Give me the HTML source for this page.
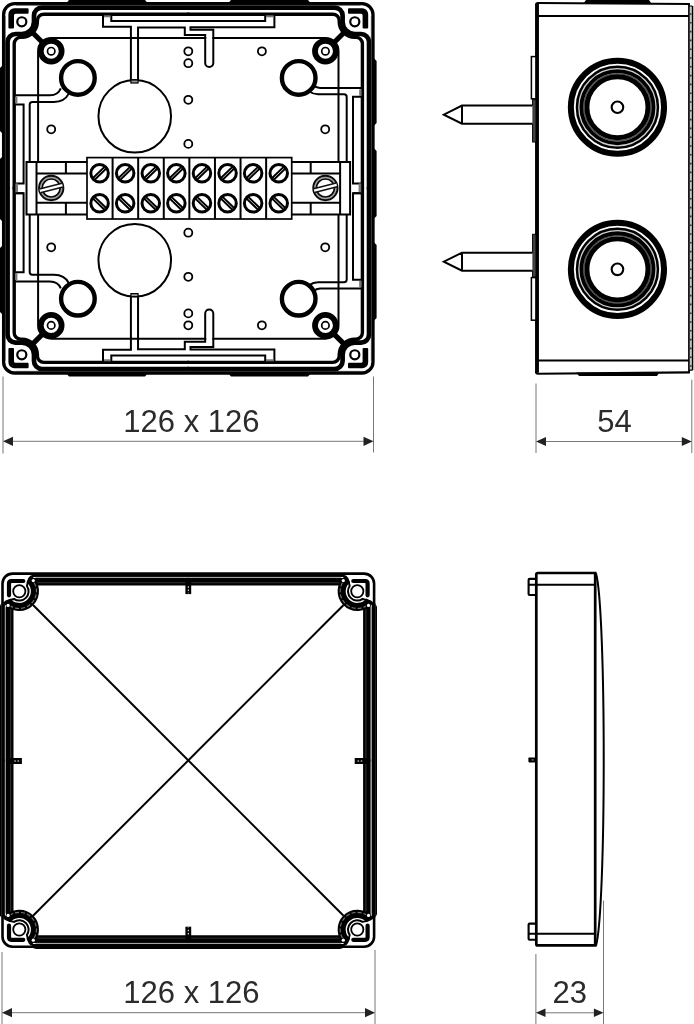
<!DOCTYPE html>
<html lang="en">
<head>
<meta charset="utf-8">
<title>Junction box 126 x 126 - dimensional drawing</title>
<style>
html,body{margin:0;padding:0;background:#fff;}
body{width:694px;height:1024px;overflow:hidden;font-family:"Liberation Sans",sans-serif;}
svg{display:block;}
</style>
</head>
<body>
<svg width="694" height="1024" viewBox="0 0 694 1024">
<rect x="0" y="0" width="694" height="1024" fill="#fff"/>
<g id="topview"><path d="M66 3.5 L69 0 L145 0 L148 3.5 Z" fill="#000"/><path d="M228 3.5 L231 0 L308 0 L311 3.5 Z" fill="#000"/><path d="M66 373.1 L69 376.6 L145 376.6 L148 373.1 Z" fill="#000"/><path d="M228 373.1 L231 376.6 L308 376.6 L311 373.1 Z" fill="#000"/><path d="M3 65 L0 68 L0 131 L3 134 Z" fill="#000"/><path d="M3 156 L0 159 L0 219 L3 222 Z" fill="#000"/><path d="M3 245 L0 248 L0 312 L3 315 Z" fill="#000"/><path d="M373.6 58 L376.6 61 L376.6 123 L373.6 126 Z" fill="#000"/><path d="M373.6 148 L376.6 151 L376.6 216 L373.6 219 Z" fill="#000"/><path d="M373.6 242 L376.6 245 L376.6 318 L373.6 321 Z" fill="#000"/><rect x="3.6" y="3.6" width="369.40000000000003" height="369.40000000000003" rx="11" fill="none" stroke="#000" stroke-width="3.3"/><path d="M189.3 7.55 H42 A8 8 0 0 0 34 15.55 V21.8 A12.2 12.2 0 0 1 21.8 34 H15.55 A8 8 0 0 0 7.55 42 V189.3" fill="none" stroke="#000" stroke-width="4.7" /><g transform="translate(376.6,0) scale(-1,1)"><path d="M189.3 7.55 H42 A8 8 0 0 0 34 15.55 V21.8 A12.2 12.2 0 0 1 21.8 34 H15.55 A8 8 0 0 0 7.55 42 V189.3" fill="none" stroke="#000" stroke-width="4.7" /></g><g transform="translate(0,376.6) scale(1,-1)"><path d="M189.3 7.55 H42 A8 8 0 0 0 34 15.55 V21.8 A12.2 12.2 0 0 1 21.8 34 H15.55 A8 8 0 0 0 7.55 42 V189.3" fill="none" stroke="#000" stroke-width="4.7" /></g><g transform="translate(376.6,376.6) scale(-1,-1)"><path d="M189.3 7.55 H42 A8 8 0 0 0 34 15.55 V21.8 A12.2 12.2 0 0 1 21.8 34 H15.55 A8 8 0 0 0 7.55 42 V189.3" fill="none" stroke="#000" stroke-width="4.7" /></g><path d="M189.3 5.3 H16 M5.3 16 V189.3" stroke="#3a3a3a" stroke-width="0.6" fill="none"/><g transform="translate(376.6,0) scale(-1,1)"><path d="M189.3 5.3 H16 M5.3 16 V189.3" stroke="#3a3a3a" stroke-width="0.6" fill="none"/></g><g transform="translate(0,376.6) scale(1,-1)"><path d="M189.3 5.3 H16 M5.3 16 V189.3" stroke="#3a3a3a" stroke-width="0.6" fill="none"/></g><g transform="translate(376.6,376.6) scale(-1,-1)"><path d="M189.3 5.3 H16 M5.3 16 V189.3" stroke="#3a3a3a" stroke-width="0.6" fill="none"/></g><path d="M189.3 14.2 H43.8 A6.4 6.4 0 0 0 37.4 20.6 V21.8 A15.6 15.6 0 0 1 21.8 37.4 H20.6 A6.4 6.4 0 0 0 14.2 43.8 V189.3" fill="none" stroke="#000" stroke-width="3.4" /><g transform="translate(376.6,0) scale(-1,1)"><path d="M189.3 14.2 H43.8 A6.4 6.4 0 0 0 37.4 20.6 V21.8 A15.6 15.6 0 0 1 21.8 37.4 H20.6 A6.4 6.4 0 0 0 14.2 43.8 V189.3" fill="none" stroke="#000" stroke-width="3.4" /></g><g transform="translate(0,376.6) scale(1,-1)"><path d="M189.3 14.2 H43.8 A6.4 6.4 0 0 0 37.4 20.6 V21.8 A15.6 15.6 0 0 1 21.8 37.4 H20.6 A6.4 6.4 0 0 0 14.2 43.8 V189.3" fill="none" stroke="#000" stroke-width="3.4" /></g><g transform="translate(376.6,376.6) scale(-1,-1)"><path d="M189.3 14.2 H43.8 A6.4 6.4 0 0 0 37.4 20.6 V21.8 A15.6 15.6 0 0 1 21.8 37.4 H20.6 A6.4 6.4 0 0 0 14.2 43.8 V189.3" fill="none" stroke="#000" stroke-width="3.4" /></g><path d="M8.4 27.6 V14.3 A6 6 0 0 1 14.4 8.3 H27.6 Q28.6 8.3 28.6 9.3 V12.8 Q28.6 13.8 27.6 13.8 H15.5 Q14 13.8 14 15.3 V27.6 Q14 28.6 13 28.6 H9.4 Q8.4 28.6 8.4 27.6 Z" fill="#000"/><g transform="translate(376.6,0) scale(-1,1)"><path d="M8.4 27.6 V14.3 A6 6 0 0 1 14.4 8.3 H27.6 Q28.6 8.3 28.6 9.3 V12.8 Q28.6 13.8 27.6 13.8 H15.5 Q14 13.8 14 15.3 V27.6 Q14 28.6 13 28.6 H9.4 Q8.4 28.6 8.4 27.6 Z" fill="#000"/></g><g transform="translate(0,376.6) scale(1,-1)"><path d="M8.4 27.6 V14.3 A6 6 0 0 1 14.4 8.3 H27.6 Q28.6 8.3 28.6 9.3 V12.8 Q28.6 13.8 27.6 13.8 H15.5 Q14 13.8 14 15.3 V27.6 Q14 28.6 13 28.6 H9.4 Q8.4 28.6 8.4 27.6 Z" fill="#000"/></g><g transform="translate(376.6,376.6) scale(-1,-1)"><path d="M8.4 27.6 V14.3 A6 6 0 0 1 14.4 8.3 H27.6 Q28.6 8.3 28.6 9.3 V12.8 Q28.6 13.8 27.6 13.8 H15.5 Q14 13.8 14 15.3 V27.6 Q14 28.6 13 28.6 H9.4 Q8.4 28.6 8.4 27.6 Z" fill="#000"/></g><circle cx="21.8" cy="21.8" r="4.54" fill="none" stroke="#000" stroke-width="2.2"/><g transform="translate(376.6,0) scale(-1,1)"><circle cx="21.8" cy="21.8" r="4.54" fill="none" stroke="#000" stroke-width="2.2"/></g><g transform="translate(0,376.6) scale(1,-1)"><circle cx="21.8" cy="21.8" r="4.54" fill="none" stroke="#000" stroke-width="2.2"/></g><g transform="translate(376.6,376.6) scale(-1,-1)"><circle cx="21.8" cy="21.8" r="4.54" fill="none" stroke="#000" stroke-width="2.2"/></g><path d="M31 31 L45 45" stroke="#000" stroke-width="5.2" fill="none"/><g transform="translate(376.6,0) scale(-1,1)"><path d="M31 31 L45 45" stroke="#000" stroke-width="5.2" fill="none"/></g><g transform="translate(0,376.6) scale(1,-1)"><path d="M31 31 L45 45" stroke="#000" stroke-width="5.2" fill="none"/></g><g transform="translate(376.6,376.6) scale(-1,-1)"><path d="M31 31 L45 45" stroke="#000" stroke-width="5.2" fill="none"/></g><rect x="38.1" y="37.9" width="300.40000000000003" height="300.8" rx="13" fill="none" stroke="#000" stroke-width="2"/><circle cx="134.75" cy="116.3" r="36.3" fill="none" stroke="#000" stroke-width="2.0"/><g transform="translate(0,376.6) scale(1,-1)"><circle cx="134.75" cy="116.3" r="36.3" fill="none" stroke="#000" stroke-width="2.0"/></g><path d="M103 14.2 V26.8 H130.9 V80.5" fill="none" stroke="#000" stroke-width="2.0" /><path d="M138.05 80.5 V27.4 H184.8 V34.9 H205.2 V63 a4.05 4.05 0 0 0 8.1 0 V29.7 H190.5 V27.2 H274.4 V14.2" fill="none" stroke="#000" stroke-width="2.0" /><path d="M111.3 14.2 V21 H265.2 V14.2" fill="none" stroke="#000" stroke-width="2.0" /><rect x="104" y="15.3" width="6.5" height="2" fill="#777"/><rect x="266" y="15.3" width="7.6" height="2" fill="#777"/><rect x="130.9" y="80" width="7.15" height="3" fill="#999" stroke="#000" stroke-width="1.2"/><rect x="206.4" y="36" width="5.7" height="4" fill="#fff"/><g transform="translate(0,376.6) scale(1,-1)"><path d="M103 14.2 V26.8 H130.9 V80.5" fill="none" stroke="#000" stroke-width="2.0" /><path d="M138.05 80.5 V27.4 H184.8 V34.9 H205.2 V63 a4.05 4.05 0 0 0 8.1 0 V29.7 H190.5 V27.2 H274.4 V14.2" fill="none" stroke="#000" stroke-width="2.0" /><path d="M111.3 14.2 V21 H265.2 V14.2" fill="none" stroke="#000" stroke-width="2.0" /><rect x="104" y="15.3" width="6.5" height="2" fill="#777"/><rect x="266" y="15.3" width="7.6" height="2" fill="#777"/><rect x="130.9" y="80" width="7.15" height="3" fill="#999" stroke="#000" stroke-width="1.2"/><rect x="206.4" y="36" width="5.7" height="4" fill="#fff"/></g><path d="M15.4 95.2 H50 Q58 95.2 60.8 88.3" fill="none" stroke="#000" stroke-width="2.0" /><path d="M29.7 161.5 V104.6 Q29.7 101.9 32.4 101.9 H54 Q64.5 101.9 68.8 93.6" fill="none" stroke="#000" stroke-width="2.0" /><path d="M15.4 104.4 H23.6 V183.4 H15.4" fill="none" stroke="#000" stroke-width="2.0" /><rect x="15" y="96.6" width="2.4" height="6.8" fill="#777"/><g transform="translate(0,376.6) scale(1,-1)"><path d="M15.4 95.2 H50 Q58 95.2 60.8 88.3" fill="none" stroke="#000" stroke-width="2.0" /><path d="M29.7 161.5 V104.6 Q29.7 101.9 32.4 101.9 H54 Q64.5 101.9 68.8 93.6" fill="none" stroke="#000" stroke-width="2.0" /><path d="M15.4 104.4 H23.6 V183.4 H15.4" fill="none" stroke="#000" stroke-width="2.0" /><rect x="15" y="96.6" width="2.4" height="6.8" fill="#777"/></g><rect x="15.4" y="183.4" width="2.6" height="9.8" fill="#777"/><path d="M15.4 193.2 H23.6" fill="none" stroke="#000" stroke-width="2.0" /><path d="M361 88 H320 Q316 87.8 314 85.5" fill="none" stroke="#000" stroke-width="2.0" /><path d="M346.7 161.5 V97 Q346.7 94.3 344 94.3 H318 Q313 94.2 309.5 91.5" fill="none" stroke="#000" stroke-width="2.0" /><path d="M361 96.8 H353 V183.4 H361" fill="none" stroke="#000" stroke-width="2.0" /><rect x="359.2" y="89.4" width="2.4" height="6.4" fill="#777"/><g transform="translate(0,376.6) scale(1,-1)"><path d="M361 88 H320 Q316 87.8 314 85.5" fill="none" stroke="#000" stroke-width="2.0" /><path d="M346.7 161.5 V97 Q346.7 94.3 344 94.3 H318 Q313 94.2 309.5 91.5" fill="none" stroke="#000" stroke-width="2.0" /><path d="M361 96.8 H353 V183.4 H361" fill="none" stroke="#000" stroke-width="2.0" /><rect x="359.2" y="89.4" width="2.4" height="6.4" fill="#777"/></g><rect x="358.6" y="183.4" width="2.6" height="9.8" fill="#777"/><path d="M361 193.2 H353" fill="none" stroke="#000" stroke-width="2.0" /><circle cx="51.2" cy="51.2" r="10.43" fill="none" stroke="#000" stroke-width="5.75"/><circle cx="51.2" cy="51.2" r="3.7" fill="none" stroke="#000" stroke-width="1.7"/><g transform="translate(376.6,0) scale(-1,1)"><circle cx="51.2" cy="51.2" r="10.43" fill="none" stroke="#000" stroke-width="5.75"/><circle cx="51.2" cy="51.2" r="3.7" fill="none" stroke="#000" stroke-width="1.7"/></g><g transform="translate(0,376.6) scale(1,-1)"><circle cx="51.2" cy="51.2" r="10.43" fill="none" stroke="#000" stroke-width="5.75"/><circle cx="51.2" cy="51.2" r="3.7" fill="none" stroke="#000" stroke-width="1.7"/></g><g transform="translate(376.6,376.6) scale(-1,-1)"><circle cx="51.2" cy="51.2" r="10.43" fill="none" stroke="#000" stroke-width="5.75"/><circle cx="51.2" cy="51.2" r="3.7" fill="none" stroke="#000" stroke-width="1.7"/></g><circle cx="77.9" cy="77.9" r="16.8" fill="#fff" stroke="#000" stroke-width="4.4"/><g transform="translate(376.6,0) scale(-1,1)"><circle cx="77.9" cy="77.9" r="16.8" fill="#fff" stroke="#000" stroke-width="4.4"/></g><g transform="translate(0,376.6) scale(1,-1)"><circle cx="77.9" cy="77.9" r="16.8" fill="#fff" stroke="#000" stroke-width="4.4"/></g><g transform="translate(376.6,376.6) scale(-1,-1)"><circle cx="77.9" cy="77.9" r="16.8" fill="#fff" stroke="#000" stroke-width="4.4"/></g><circle cx="188.3" cy="51.3" r="4.0" fill="none" stroke="#000" stroke-width="1.8"/><circle cx="188.3" cy="63.2" r="4.0" fill="none" stroke="#000" stroke-width="1.8"/><circle cx="188.3" cy="99.8" r="4.0" fill="none" stroke="#000" stroke-width="1.8"/><circle cx="188.3" cy="143.9" r="4.0" fill="none" stroke="#000" stroke-width="1.8"/><circle cx="261.9" cy="51.3" r="4.0" fill="none" stroke="#000" stroke-width="1.8"/><circle cx="51.2" cy="129.3" r="4.0" fill="none" stroke="#000" stroke-width="1.8"/><circle cx="325.2" cy="129.3" r="4.0" fill="none" stroke="#000" stroke-width="1.8"/><g transform="translate(0,376.6) scale(1,-1)"><circle cx="188.3" cy="51.3" r="4.0" fill="none" stroke="#000" stroke-width="1.8"/><circle cx="188.3" cy="63.2" r="4.0" fill="none" stroke="#000" stroke-width="1.8"/><circle cx="188.3" cy="99.8" r="4.0" fill="none" stroke="#000" stroke-width="1.8"/><circle cx="188.3" cy="143.9" r="4.0" fill="none" stroke="#000" stroke-width="1.8"/><circle cx="261.9" cy="51.3" r="4.0" fill="none" stroke="#000" stroke-width="1.8"/><circle cx="51.2" cy="129.3" r="4.0" fill="none" stroke="#000" stroke-width="1.8"/><circle cx="325.2" cy="129.3" r="4.0" fill="none" stroke="#000" stroke-width="1.8"/></g><rect x="26.5" y="162" width="61" height="52.4" fill="#fff" stroke="none"/><path d="M87 162 H26.5 V214.4 H87" fill="none" stroke="#000" stroke-width="2.0" /><path d="M36.5 162 V214.4" fill="none" stroke="#000" stroke-width="2.0" /><path d="M36.5 173.4 H87 M36.5 202.7 H87" fill="none" stroke="#000" stroke-width="2.0" /><path d="M65.9 162 V173.4 M65.9 202.7 V214.4" fill="none" stroke="#000" stroke-width="2.0" /><circle cx="51.2" cy="188" r="10.6" fill="#fff" stroke="#a0a0a0" stroke-width="3.4"/><circle cx="51.2" cy="188" r="12.2" fill="none" stroke="#0a0a0a" stroke-width="1.9"/><circle cx="51.2" cy="188" r="9.0" fill="none" stroke="#0a0a0a" stroke-width="1.7"/><g transform="translate(376.6,0) scale(-1,1)"><rect x="26.5" y="162" width="61" height="52.4" fill="#fff" stroke="none"/><path d="M87 162 H26.5 V214.4 H87" fill="none" stroke="#000" stroke-width="2.0" /><path d="M36.5 162 V214.4" fill="none" stroke="#000" stroke-width="2.0" /><path d="M36.5 173.4 H87 M36.5 202.7 H87" fill="none" stroke="#000" stroke-width="2.0" /><path d="M65.9 162 V173.4 M65.9 202.7 V214.4" fill="none" stroke="#000" stroke-width="2.0" /><circle cx="51.2" cy="188" r="10.6" fill="#fff" stroke="#a0a0a0" stroke-width="3.4"/><circle cx="51.2" cy="188" r="12.2" fill="none" stroke="#0a0a0a" stroke-width="1.9"/><circle cx="51.2" cy="188" r="9.0" fill="none" stroke="#0a0a0a" stroke-width="1.7"/></g><path d="M39.96 190.88 L62.44 185.12" stroke="#fff" stroke-width="3.6" fill="none"/><path d="M39.49 189.04 L61.96 183.27" stroke="#111" stroke-width="1.5" fill="none"/><path d="M40.44 192.73 L62.91 186.96" stroke="#111" stroke-width="1.5" fill="none"/><path d="M314.16 190.58 L336.64 184.82" stroke="#fff" stroke-width="3.6" fill="none"/><path d="M313.69 188.74 L336.16 182.97" stroke="#111" stroke-width="1.5" fill="none"/><path d="M314.64 192.43 L337.11 186.66" stroke="#111" stroke-width="1.5" fill="none"/><rect x="87.0" y="157.6" width="204.72" height="61.40" fill="#fff" stroke="#000" stroke-width="1.7"/><path d="M112.59 157.6 V219.0" fill="none" stroke="#000" stroke-width="2.0" /><path d="M138.18 157.6 V219.0" fill="none" stroke="#000" stroke-width="2.0" /><path d="M163.77 157.6 V219.0" fill="none" stroke="#000" stroke-width="2.0" /><path d="M189.36 157.6 V219.0" fill="none" stroke="#000" stroke-width="2.0" /><path d="M214.95 157.6 V219.0" fill="none" stroke="#000" stroke-width="2.0" /><path d="M240.54 157.6 V219.0" fill="none" stroke="#000" stroke-width="2.0" /><path d="M266.13 157.6 V219.0" fill="none" stroke="#000" stroke-width="2.0" /><circle cx="99.59" cy="173.3" r="8.76" fill="none" stroke="#000" stroke-width="3.0"/><path d="M93.84 178.86 L105.35 167.74" stroke="#000" stroke-width="4.4" fill="none"/><path d="M94.56 178.16 L104.63 168.44" stroke="#ccc" stroke-width="0.9" fill="none"/><circle cx="99.59" cy="203.3" r="8.76" fill="none" stroke="#000" stroke-width="3.0"/><path d="M93.84 197.74 L105.35 208.86" stroke="#000" stroke-width="4.4" fill="none"/><path d="M94.56 198.44 L104.63 208.16" stroke="#ccc" stroke-width="0.9" fill="none"/><circle cx="125.18" cy="173.3" r="8.76" fill="none" stroke="#000" stroke-width="3.0"/><path d="M119.43 178.86 L130.94 167.74" stroke="#000" stroke-width="4.4" fill="none"/><path d="M120.15 178.16 L130.22 168.44" stroke="#ccc" stroke-width="0.9" fill="none"/><circle cx="125.18" cy="203.3" r="8.76" fill="none" stroke="#000" stroke-width="3.0"/><path d="M119.43 197.74 L130.94 208.86" stroke="#000" stroke-width="4.4" fill="none"/><path d="M120.15 198.44 L130.22 208.16" stroke="#ccc" stroke-width="0.9" fill="none"/><circle cx="150.78" cy="173.3" r="8.76" fill="none" stroke="#000" stroke-width="3.0"/><path d="M145.02 178.86 L156.53 167.74" stroke="#000" stroke-width="4.4" fill="none"/><path d="M145.74 178.16 L155.81 168.44" stroke="#ccc" stroke-width="0.9" fill="none"/><circle cx="150.78" cy="203.3" r="8.76" fill="none" stroke="#000" stroke-width="3.0"/><path d="M145.02 197.74 L156.53 208.86" stroke="#000" stroke-width="4.4" fill="none"/><path d="M145.74 198.44 L155.81 208.16" stroke="#ccc" stroke-width="0.9" fill="none"/><circle cx="176.37" cy="173.3" r="8.76" fill="none" stroke="#000" stroke-width="3.0"/><path d="M170.61 178.86 L182.12 167.74" stroke="#000" stroke-width="4.4" fill="none"/><path d="M171.33 178.16 L181.40 168.44" stroke="#ccc" stroke-width="0.9" fill="none"/><circle cx="176.37" cy="203.3" r="8.76" fill="none" stroke="#000" stroke-width="3.0"/><path d="M170.61 197.74 L182.12 208.86" stroke="#000" stroke-width="4.4" fill="none"/><path d="M171.33 198.44 L181.40 208.16" stroke="#ccc" stroke-width="0.9" fill="none"/><circle cx="201.96" cy="173.3" r="8.76" fill="none" stroke="#000" stroke-width="3.0"/><path d="M196.20 178.86 L207.71 167.74" stroke="#000" stroke-width="4.4" fill="none"/><path d="M196.92 178.16 L206.99 168.44" stroke="#ccc" stroke-width="0.9" fill="none"/><circle cx="201.96" cy="203.3" r="8.76" fill="none" stroke="#000" stroke-width="3.0"/><path d="M196.20 197.74 L207.71 208.86" stroke="#000" stroke-width="4.4" fill="none"/><path d="M196.92 198.44 L206.99 208.16" stroke="#ccc" stroke-width="0.9" fill="none"/><circle cx="227.55" cy="173.3" r="8.76" fill="none" stroke="#000" stroke-width="3.0"/><path d="M221.79 178.86 L233.30 167.74" stroke="#000" stroke-width="4.4" fill="none"/><path d="M222.51 178.16 L232.58 168.44" stroke="#ccc" stroke-width="0.9" fill="none"/><circle cx="227.55" cy="203.3" r="8.76" fill="none" stroke="#000" stroke-width="3.0"/><path d="M221.79 197.74 L233.30 208.86" stroke="#000" stroke-width="4.4" fill="none"/><path d="M222.51 198.44 L232.58 208.16" stroke="#ccc" stroke-width="0.9" fill="none"/><circle cx="253.14" cy="173.3" r="8.76" fill="none" stroke="#000" stroke-width="3.0"/><path d="M247.38 178.86 L258.89 167.74" stroke="#000" stroke-width="4.4" fill="none"/><path d="M248.10 178.16 L258.17 168.44" stroke="#ccc" stroke-width="0.9" fill="none"/><circle cx="253.14" cy="203.3" r="8.76" fill="none" stroke="#000" stroke-width="3.0"/><path d="M247.38 197.74 L258.89 208.86" stroke="#000" stroke-width="4.4" fill="none"/><path d="M248.10 198.44 L258.17 208.16" stroke="#ccc" stroke-width="0.9" fill="none"/><circle cx="278.73" cy="173.3" r="8.76" fill="none" stroke="#000" stroke-width="3.0"/><path d="M272.97 178.86 L284.48 167.74" stroke="#000" stroke-width="4.4" fill="none"/><path d="M273.69 178.16 L283.76 168.44" stroke="#ccc" stroke-width="0.9" fill="none"/><circle cx="278.73" cy="203.3" r="8.76" fill="none" stroke="#000" stroke-width="3.0"/><path d="M272.97 197.74 L284.48 208.86" stroke="#000" stroke-width="4.4" fill="none"/><path d="M273.69 198.44 L283.76 208.16" stroke="#ccc" stroke-width="0.9" fill="none"/></g>
<g id="sideview"><path d="M583.3 3.8 L586 0 H649 L651.6 3.8 Z" fill="#000"/><path d="M576.4 372.5 L579 376 H657 L659.4 372.5 Z" fill="#000"/><path d="M537 3.9 V372.8" fill="none" stroke="#000" stroke-width="3.9" /><path d="M689.9 3.9 L538 2.9 Q536 2.9 536 4.9" fill="none" stroke="#000" stroke-width="2.0" /><path d="M689.9 372.4 L538 373.8 Q536 373.8 536 371.8" fill="none" stroke="#000" stroke-width="2.1" /><path d="M537 16 H689" fill="none" stroke="#000" stroke-width="2.0" /><path d="M537 360.4 H689" fill="none" stroke="#000" stroke-width="2.0" /><path d="M689 3.9 V372.4" fill="none" stroke="#000" stroke-width="1.8" /><path d="M692.4 6 V370.2" fill="none" stroke="#000" stroke-width="1.8" /><path d="M690.7 6 V370.2" stroke="#c4c4c4" stroke-width="1.8" fill="none"/><path d="M690.7 13.2 V370.2" stroke="#333" stroke-width="1.8" stroke-dasharray="1.6 7.2" fill="none"/><path d="M689 6 H692.4 M689 370.2 H692.4" fill="none" stroke="#000" stroke-width="1.2" /><rect x="531.4" y="56.6" width="4.5" height="42.2" fill="#fff" stroke="#000" stroke-width="1.5"/><rect x="531.4" y="277.6" width="4.5" height="42.6" fill="#fff" stroke="#000" stroke-width="1.5"/><rect x="532.6" y="99.7" width="3.4" height="42.3" fill="#444" stroke="#000" stroke-width="1"/><rect x="532.6" y="234.3" width="3.4" height="42.6" fill="#444" stroke="#000" stroke-width="1"/><path d="M532.5 105.60000000000001 H462 L443.8 114.65 L462 123.7 H532.5 M462 105.60000000000001 V123.7" fill="#fff" stroke="#000" stroke-width="2" stroke-linejoin="miter"/><path d="M532.5 252.64999999999998 H462 L443.8 261.7 L462 270.75 H532.5 M462 252.64999999999998 V270.75" fill="#fff" stroke="#000" stroke-width="2" stroke-linejoin="miter"/><circle cx="617.45" cy="107.25" r="33.55" fill="none" stroke="#555" stroke-width="1.6"/><circle cx="617.45" cy="107.25" r="38.65" fill="none" stroke="#d0d0d0" stroke-width="1.5"/><circle cx="617.45" cy="107.25" r="46.6" fill="none" stroke="#000" stroke-width="6.0"/><circle cx="617.45" cy="107.25" r="40.5" fill="none" stroke="#000" stroke-width="2.5"/><circle cx="617.45" cy="107.25" r="36.1" fill="none" stroke="#000" stroke-width="3.8"/><circle cx="617.45" cy="107.25" r="30.5" fill="none" stroke="#000" stroke-width="4.9"/><circle cx="617.45" cy="107.25" r="5.8" fill="none" stroke="#000" stroke-width="2.1"/><circle cx="617.45" cy="269.35" r="33.55" fill="none" stroke="#555" stroke-width="1.6"/><circle cx="617.45" cy="269.35" r="38.65" fill="none" stroke="#d0d0d0" stroke-width="1.5"/><circle cx="617.45" cy="269.35" r="46.6" fill="none" stroke="#000" stroke-width="6.0"/><circle cx="617.45" cy="269.35" r="40.5" fill="none" stroke="#000" stroke-width="2.5"/><circle cx="617.45" cy="269.35" r="36.1" fill="none" stroke="#000" stroke-width="3.8"/><circle cx="617.45" cy="269.35" r="30.5" fill="none" stroke="#000" stroke-width="4.9"/><circle cx="617.45" cy="269.35" r="5.8" fill="none" stroke="#000" stroke-width="2.1"/></g>
<g id="lid"><rect x="2.5" y="573.5999999999999" width="371.59999999999997" height="373.1" rx="10" fill="none" stroke="#000" stroke-width="2.6"/><path d="M1.4 603 L-0.6 607 V914 L1.4 918 Z" fill="#000"/><path d="M375.2 603 L377 607 V914 L375.2 918 Z" fill="#000"/><path d="M32 947.8 L36 948.9 H340 L344 947.8 Z" fill="#000"/><path d="M189.3 581.6999999999999 H30.8" fill="none" stroke="#000" stroke-width="7.6" /><path d="M9.700000000000001 761.4 V602.8" fill="none" stroke="#000" stroke-width="7.6" /><path d="M189.3 575.9 H32.3 Q28.80 575.9 26.92 585.97 A9.3 9.3 0 0 1 13.97 598.92 Q3.9 600.80 3.9 604.3 V761.4" fill="none" stroke="#000" stroke-width="2.0" /><path d="M28.94 578.97 A15.65 15.65 0 1 1 6.97 600.94" fill="none" stroke="#000" stroke-width="8.1" /><path d="M189.3 577.4 H35.3" stroke="#9a9a9a" stroke-width="1" fill="none"/><path d="M5.3999999999999995 761.4 V607.3" stroke="#8a8a8a" stroke-width="1" fill="none"/><path d="M189.3 582.6999999999999 H37.3" stroke="#3c3c3c" stroke-width="0.8" fill="none"/><path d="M10.700000000000001 761.4 V609.3" stroke="#444" stroke-width="0.8" fill="none"/><path d="M34.15 582.72 A17.15 17.15 0 0 1 10.73 606.15" fill="none" stroke="#777" stroke-width="1.1" stroke-dasharray="4 2"/><circle cx="19.30" cy="591.30" r="6.1" fill="none" stroke="#000" stroke-width="1.8"/><path d="M9.0 595.3 V583.5 Q9.0 581.0 11.5 581.0 H23.3" fill="none" stroke="#000" stroke-width="4.2" stroke-linecap="round"/><circle cx="33.3" cy="580.5999999999999" r="1.6" fill="#fff"/><circle cx="8.1" cy="605.4" r="1.6" fill="#fff"/><g transform="translate(376.6,0) scale(-1,1)"><path d="M189.3 581.6999999999999 H30.8" fill="none" stroke="#000" stroke-width="7.6" /><path d="M9.700000000000001 761.4 V602.8" fill="none" stroke="#000" stroke-width="7.6" /><path d="M189.3 575.9 H32.3 Q28.80 575.9 26.92 585.97 A9.3 9.3 0 0 1 13.97 598.92 Q3.9 600.80 3.9 604.3 V761.4" fill="none" stroke="#000" stroke-width="2.0" /><path d="M28.94 578.97 A15.65 15.65 0 1 1 6.97 600.94" fill="none" stroke="#000" stroke-width="8.1" /><path d="M189.3 577.4 H35.3" stroke="#9a9a9a" stroke-width="1" fill="none"/><path d="M5.3999999999999995 761.4 V607.3" stroke="#8a8a8a" stroke-width="1" fill="none"/><path d="M189.3 582.6999999999999 H37.3" stroke="#3c3c3c" stroke-width="0.8" fill="none"/><path d="M10.700000000000001 761.4 V609.3" stroke="#444" stroke-width="0.8" fill="none"/><path d="M34.15 582.72 A17.15 17.15 0 0 1 10.73 606.15" fill="none" stroke="#777" stroke-width="1.1" stroke-dasharray="4 2"/><circle cx="19.30" cy="591.30" r="6.1" fill="none" stroke="#000" stroke-width="1.8"/><path d="M9.0 595.3 V583.5 Q9.0 581.0 11.5 581.0 H23.3" fill="none" stroke="#000" stroke-width="4.2" stroke-linecap="round"/><circle cx="33.3" cy="580.5999999999999" r="1.6" fill="#fff"/><circle cx="8.1" cy="605.4" r="1.6" fill="#fff"/></g><g transform="translate(0,1520.8) scale(1,-1)"><path d="M189.3 581.6999999999999 H30.8" fill="none" stroke="#000" stroke-width="7.6" /><path d="M9.700000000000001 761.4 V602.8" fill="none" stroke="#000" stroke-width="7.6" /><path d="M189.3 575.9 H32.3 Q28.80 575.9 26.92 585.97 A9.3 9.3 0 0 1 13.97 598.92 Q3.9 600.80 3.9 604.3 V761.4" fill="none" stroke="#000" stroke-width="2.0" /><path d="M28.94 578.97 A15.65 15.65 0 1 1 6.97 600.94" fill="none" stroke="#000" stroke-width="8.1" /><path d="M189.3 577.4 H35.3" stroke="#9a9a9a" stroke-width="1" fill="none"/><path d="M5.3999999999999995 761.4 V607.3" stroke="#8a8a8a" stroke-width="1" fill="none"/><path d="M189.3 582.6999999999999 H37.3" stroke="#3c3c3c" stroke-width="0.8" fill="none"/><path d="M10.700000000000001 761.4 V609.3" stroke="#444" stroke-width="0.8" fill="none"/><path d="M34.15 582.72 A17.15 17.15 0 0 1 10.73 606.15" fill="none" stroke="#777" stroke-width="1.1" stroke-dasharray="4 2"/><circle cx="19.30" cy="591.30" r="6.1" fill="none" stroke="#000" stroke-width="1.8"/><path d="M9.0 595.3 V583.5 Q9.0 581.0 11.5 581.0 H23.3" fill="none" stroke="#000" stroke-width="4.2" stroke-linecap="round"/><circle cx="33.3" cy="580.5999999999999" r="1.6" fill="#fff"/><circle cx="8.1" cy="605.4" r="1.6" fill="#fff"/></g><g transform="translate(376.6,1520.8) scale(-1,-1)"><path d="M189.3 581.6999999999999 H30.8" fill="none" stroke="#000" stroke-width="7.6" /><path d="M9.700000000000001 761.4 V602.8" fill="none" stroke="#000" stroke-width="7.6" /><path d="M189.3 575.9 H32.3 Q28.80 575.9 26.92 585.97 A9.3 9.3 0 0 1 13.97 598.92 Q3.9 600.80 3.9 604.3 V761.4" fill="none" stroke="#000" stroke-width="2.0" /><path d="M28.94 578.97 A15.65 15.65 0 1 1 6.97 600.94" fill="none" stroke="#000" stroke-width="8.1" /><path d="M189.3 577.4 H35.3" stroke="#9a9a9a" stroke-width="1" fill="none"/><path d="M5.3999999999999995 761.4 V607.3" stroke="#8a8a8a" stroke-width="1" fill="none"/><path d="M189.3 582.6999999999999 H37.3" stroke="#3c3c3c" stroke-width="0.8" fill="none"/><path d="M10.700000000000001 761.4 V609.3" stroke="#444" stroke-width="0.8" fill="none"/><path d="M34.15 582.72 A17.15 17.15 0 0 1 10.73 606.15" fill="none" stroke="#777" stroke-width="1.1" stroke-dasharray="4 2"/><circle cx="19.30" cy="591.30" r="6.1" fill="none" stroke="#000" stroke-width="1.8"/><path d="M9.0 595.3 V583.5 Q9.0 581.0 11.5 581.0 H23.3" fill="none" stroke="#000" stroke-width="4.2" stroke-linecap="round"/><circle cx="33.3" cy="580.5999999999999" r="1.6" fill="#fff"/><circle cx="8.1" cy="605.4" r="1.6" fill="#fff"/></g><path d="M33.02 605.02 L343.58 915.78" fill="none" stroke="#000" stroke-width="2.0" /><path d="M343.58 605.02 L33.02 915.78" fill="none" stroke="#000" stroke-width="2.0" /><rect x="185.40" y="580.3" width="5.8" height="13.8" fill="#000"/><rect x="185.40" y="926.7" width="5.8" height="13.8" fill="#000"/><rect x="8.3" y="758.00" width="13.600000000000001" height="6" fill="#000"/><rect x="354.7" y="758.00" width="13.600000000000001" height="6" fill="#000"/><path d="M188.30 586.3 V593.3" stroke="#fff" stroke-width="1" stroke-dasharray="1.6 1.6" fill="none"/><path d="M188.30 934.5 V927.5" stroke="#fff" stroke-width="1" stroke-dasharray="1.6 1.6" fill="none"/><path d="M14.3 761.00 H20.8" stroke="#fff" stroke-width="1" stroke-dasharray="1.6 1.6" fill="none"/><path d="M362.3 761.00 H355.8" stroke="#fff" stroke-width="1" stroke-dasharray="1.6 1.6" fill="none"/></g>
<g id="lidside"><rect x="528.6" y="578.9" width="7.7" height="16.1" rx="1" fill="#fff" stroke="#000" stroke-width="2.1"/><rect x="528.6" y="923.6" width="7.7" height="16.1" rx="1" fill="#fff" stroke="#000" stroke-width="2.1"/><path d="M595.2 945.4 H537.8 Q536.3 945.4 536.3 943.9 V574.5 Q536.3 573 537.8 573 H595.2 Z" fill="#fff" stroke="#000" stroke-width="2.7"/><path d="M528.6 584.7 H595.2 M528.6 933.8 H595.2" fill="none" stroke="#000" stroke-width="2.0" /><rect x="528.4" y="757.4" width="7" height="5" rx="0.8" fill="#000"/><rect x="531.5" y="759.3" width="2.2" height="1.2" fill="#888"/><path d="M596 573.2 C606.3 610 606.3 909 596 945.7" fill="none" stroke="#000" stroke-width="2" /></g>
<g id="dims" style="opacity:0.999"><path d="M3 376.5 V453.5" stroke="#777" stroke-width="1" fill="none"/><path d="M373.5 376.5 V452.5" stroke="#777" stroke-width="1" fill="none"/><path d="M12 441.3 H364.5" stroke="#777" stroke-width="1" fill="none"/><path d="M3 441.3 L13 436.7 V445.90000000000003 Z" fill="#222"/><path d="M373.5 441.3 L363.5 436.7 V445.90000000000003 Z" fill="#222"/><g transform="translate(191.4,431.8) scale(1,1)"><text x="0" y="0" text-anchor="middle" font-family="'Liberation Sans', sans-serif" font-size="31" fill="#2b2b2b">126 x 126</text></g><path d="M536 383.5 V453" stroke="#777" stroke-width="1" fill="none"/><path d="M691.8 379.7 V453" stroke="#777" stroke-width="1" fill="none"/><path d="M545 441.5 H682.8" stroke="#777" stroke-width="1" fill="none"/><path d="M536 441.5 L546 436.9 V446.1 Z" fill="#222"/><path d="M691.8 441.5 L681.8 436.9 V446.1 Z" fill="#222"/><g transform="translate(614.6,431.8) scale(1,1)"><text x="0" y="0" text-anchor="middle" font-family="'Liberation Sans', sans-serif" font-size="31" fill="#2b2b2b">54</text></g><path d="M2 952 V1024" stroke="#777" stroke-width="1" fill="none"/><path d="M375 950 V1024" stroke="#777" stroke-width="1" fill="none"/><path d="M11 1012.7 H366" stroke="#777" stroke-width="1" fill="none"/><path d="M2 1012.7 L12 1008.1 V1017.3000000000001 Z" fill="#222"/><path d="M375 1012.7 L365 1008.1 V1017.3000000000001 Z" fill="#222"/><g transform="translate(191.4,1003.1) scale(1,1)"><text x="0" y="0" text-anchor="middle" font-family="'Liberation Sans', sans-serif" font-size="31" fill="#2b2b2b">126 x 126</text></g><path d="M535.9 954 V1024" stroke="#777" stroke-width="1" fill="none"/><path d="M603.5 900.5 V1024" stroke="#777" stroke-width="1" fill="none"/><path d="M544.5 1012.8 H594.9" stroke="#777" stroke-width="1" fill="none"/><path d="M535.9 1012.8 L545.5 1008.5999999999999 V1017.0 Z" fill="#222"/><path d="M603.5 1012.8 L593.9 1008.5999999999999 V1017.0 Z" fill="#222"/><g transform="translate(569.7,1003.1) scale(1,1)"><text x="0" y="0" text-anchor="middle" font-family="'Liberation Sans', sans-serif" font-size="31" fill="#2b2b2b">23</text></g></g>
</svg>
</body>
</html>
